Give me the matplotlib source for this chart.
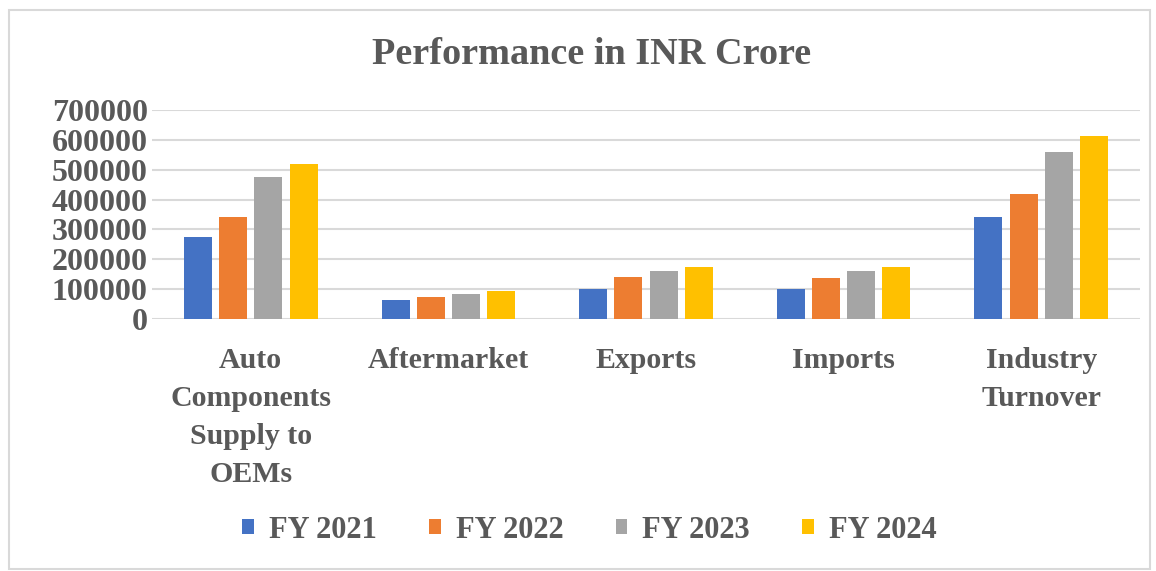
import numpy as np
import matplotlib
matplotlib.use("Agg")
import matplotlib.pyplot as plt
from matplotlib.patches import Rectangle

categories = ["Auto\nComponents\nSupply to\nOEMs", "Aftermarket", "Exports", "Imports", "Industry\nTurnover"]
series = ["FY 2021", "FY 2022", "FY 2023", "FY 2024"]
fy2021 = [276000, 65000, 101000, 101000, 340000]
fy2022 = [340000, 74000, 141000, 136000, 420000]
fy2023 = [476000, 85000, 160000, 160000, 560000]
fy2024 = [518000, 93000, 174000, 175000, 614000]
colors = ["#4472c4", "#ed7d31", "#a5a5a5", "#ffc000"]

text_color = "#595959"
grid_color = "#d9d9d9"
plt.rcParams["font.family"] = ["Liberation Serif", "DejaVu Serif"]
plt.rcParams["font.weight"] = "bold"

fig = plt.figure(figsize=(11.56, 5.71), dpi=100)
fig.patches.append(Rectangle((9 / 1156, 2 / 571), 1141 / 1156, 559 / 571,
                             transform=fig.transFigure, fill=False,
                             edgecolor=grid_color, linewidth=1.5))
ax = fig.add_axes([152 / 1156, 1 - 319 / 571, 988 / 1156, 209 / 571])

x = np.arange(len(categories))
width = 0.142
step = 0.178
for i, (vals, name) in enumerate(zip([fy2021, fy2022, fy2023, fy2024], series)):
    ax.bar(x + (i - 1.5) * step, vals, width=width, color=colors[i], label=name, zorder=3)

ax.set_xlim(-0.5, len(categories) - 0.5)
ax.set_ylim(0, 700000)
ax.set_yticks(np.arange(0, 700001, 100000))
ax.set_yticklabels([str(v) for v in range(0, 700001, 100000)])
ax.grid(axis="y", color=grid_color, linewidth=1.5, zorder=0)
for s in ax.spines.values():
    s.set_visible(False)
ax.tick_params(length=0)
ax.tick_params(axis="y", labelsize=23, labelcolor=text_color, pad=3)
ax.set_xticks(x)
ax.set_xticklabels(categories, fontsize=21.5, color=text_color, linespacing=1.52)
ax.tick_params(axis="x", pad=20)

fig.text(0.512, 1 - 55 / 571, "Performance in INR Crore", ha="center", va="center",
         fontsize=27.5, color=text_color, fontweight="bold")

leg = fig.legend(loc="center", bbox_to_anchor=(0.51, 1 - 530 / 571), ncol=4,
                 frameon=False, fontsize=22, handlelength=0.38, handleheight=0.38,
                 handletextpad=0.5, columnspacing=1.7)
for t in leg.get_texts():
    t.set_color(text_color)

fig.savefig("out.png", dpi=100, facecolor="white")
